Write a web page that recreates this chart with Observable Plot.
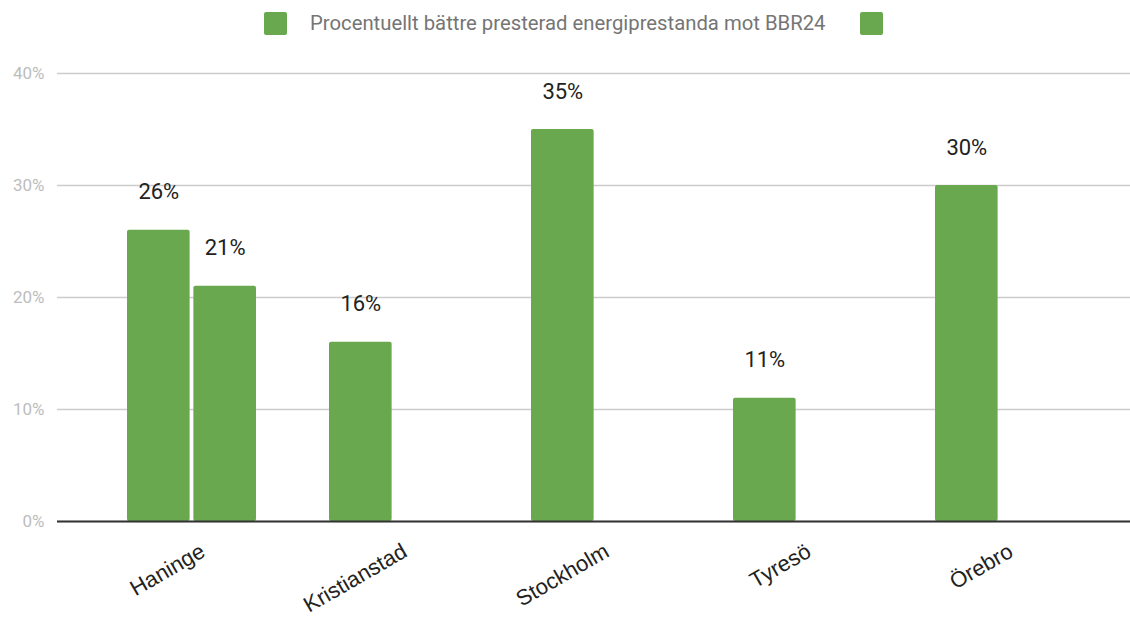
<!DOCTYPE html>
<html><head><meta charset="utf-8">
<script src="https://cdn.jsdelivr.net/npm/d3@7"></script>
<script src="https://cdn.jsdelivr.net/npm/@observablehq/plot@0.6"></script>
<style>
body{margin:0;background:#fff;font-family:Roboto,sans-serif;}
#legend{height:46px;display:flex;align-items:center;padding-left:264px;box-sizing:border-box;}
.sq{width:23px;height:23px;background:#6aa84f;border-radius:2px;display:inline-block;}
.lt{font-size:20.3px;color:#757575;margin-left:23px;margin-right:34px;}
</style></head>
<body>
<div id="legend"><span class="sq"></span><span class="lt">Procentuellt bättre presterad energiprestanda mot BBR24</span><span class="sq"></span></div>
<div id="chart"></div>
<script>
const categories = ["Haninge", "Kristianstad", "Stockholm", "Tyresö", "Örebro"];
const series1 = [0.26, 0.16, 0.35, 0.11, 0.30];
const series2 = [0.21, null, null, null, null];
const yTicks = [0, 0.1, 0.2, 0.3, 0.4];

const data1 = categories.map((c, i) => ({cat: c, v: series1[i]})).filter(d => d.v != null);
const data2 = categories.map((c, i) => ({cat: c, v: series2[i]})).filter(d => d.v != null);

const W = 1130, H = 572;
const xRange = [89, 1102.5];
const pIn = 0.36, pOut = 0.18;
const step = (xRange[1] - xRange[0]) / (categories.length - pIn + 2 * pOut);
const bw = step * (1 - pIn);
const gap = 3;
const half = (bw - gap) / 2;
const fmt = d3.format(".0%");
const green = "#6aa84f";

const chart = Plot.plot({
  width: W, height: H,
  marginLeft: 57, marginRight: 0, marginTop: 27, marginBottom: 97,
  style: {fontFamily: "Roboto, sans-serif", background: "#fff"},
  x: {domain: categories, range: xRange, paddingInner: pIn, paddingOuter: pOut},
  y: {domain: [0, 0.4]},
  marks: [
    Plot.gridY(yTicks, {stroke: "#cccccc", strokeOpacity: 1, strokeWidth: 1.5}),
    Plot.axisY(yTicks, {tickFormat: fmt, tickSize: 0, tickPadding: 13, fill: "#bdbdbd", fontSize: 17, label: null}),
    Plot.barY(data1, {x: "cat", y: "v", fill: green, insetRight: half + gap, rx: 2}),
    Plot.barY(data2, {x: "cat", y: "v", fill: green, insetLeft: half + gap, rx: 2}),
    Plot.text(data1, {x: "cat", y: "v", text: d => fmt(d.v), dx: -(half + gap) / 2, dy: -38, fontSize: 22, fill: "#222"}),
    Plot.text(data2, {x: "cat", y: "v", text: d => fmt(d.v), dx: (half + gap) / 2, dy: -38, fontSize: 22, fill: "#222"}),
    Plot.ruleY([0], {stroke: "#333", strokeWidth: 2}),
    Plot.axisX({tickSize: 0, tickRotate: -30, tickPadding: 28, dx: 11, fontSize: 22, fontFamily: "'Liberation Sans', Arial, sans-serif", fill: "#222", label: null})
  ]
});
document.getElementById("chart").appendChild(chart);
</script>
</body></html>
